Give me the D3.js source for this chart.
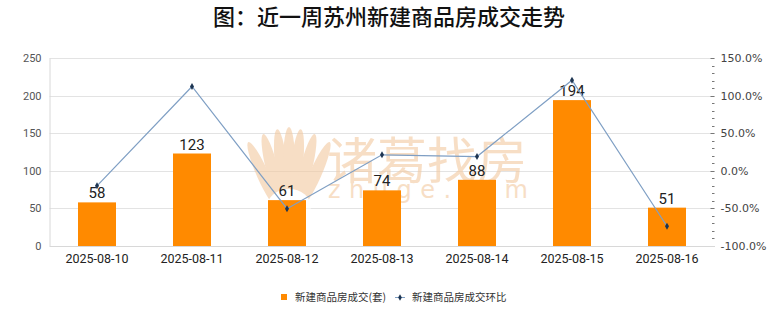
<!DOCTYPE html>
<html><head><meta charset="utf-8">
<script src="https://cdn.jsdelivr.net/npm/d3@7"></script>
<style>
body{margin:0;background:#fff;}
svg{display:block;font-family:"Noto Sans CJK SC","Noto Sans",sans-serif;}
</style></head>
<body><svg id="c" width="780" height="328"></svg>
<script>
const categories = ["2025-08-10","2025-08-11","2025-08-12","2025-08-13","2025-08-14","2025-08-15","2025-08-16"];
const deals = [58,123,61,74,88,194,51];
const momPct = [-20,112.1,-50.4,21.3,18.9,120.5,-73.7];
const leftTicks = [0,50,100,150,200,250];
const rightTicks = [-100,-50,0,50,100,150];
const titleText = "图：近一周苏州新建商品房成交走势";
const seriesNames = ["新建商品房成交(套)","新建商品房成交环比"];

const svg = d3.select("#c");
const X0=49.5, X1=714.5, Y0=58, Y1=246;

const x = d3.scaleBand().domain(categories).range([X0,X1]).paddingInner(0.6).paddingOuter(0.3);
const y = d3.scaleLinear().domain([0,250]).range([Y1,Y0]);
const y2 = d3.scaleLinear().domain([-100,150]).range([Y1,Y0]);

// title
svg.append("text").attr("x",389).attr("y",25).attr("text-anchor","middle")
  .attr("font-size",22).attr("font-weight",500).attr("fill","#111").text(titleText);

// gridlines
svg.append("g").selectAll("line").data(leftTicks).join("line")
  .attr("x1",X0).attr("x2",X1).attr("y1",d=>Math.round(y(d))+0.5).attr("y2",d=>Math.round(y(d))+0.5)
  .attr("stroke","#e3e3e3").attr("stroke-width",1);

// watermark
const wm = svg.append("g").attr("opacity",0.6);
const petals = [[-26,12,-24],[-17,6,-14],[-8,2,-6],[0,0,0],[8,2,6],[17,6,14],[26,12,24]];
petals.forEach(p=>{
  wm.append("ellipse").attr("cx",0).attr("cy",0).attr("rx",6).attr("ry",36)
    .attr("fill","#f3c9a0")
    .attr("transform",`translate(${289+p[0]},${163+p[1]}) rotate(${p[2]})`);
});
wm.append("ellipse").attr("cx",289).attr("cy",207).attr("rx",22).attr("ry",18).attr("fill","#fff");
wm.append("text").attr("x",327).attr("y",179).attr("font-size",50).attr("fill","#f3c9a0")
  .text("诸葛找房");
wm.append("text").attr("x",328).attr("y",198).attr("font-size",24).attr("fill","#f3c9a0")
  .attr("font-family","DejaVu Sans").attr("letter-spacing",8.5).text("zhuge.com");

// left axis
const gl = svg.append("g").attr("transform",`translate(${X0},0)`)
  .call(d3.axisLeft(y).tickValues(leftTicks).tickSize(0).tickPadding(8));
gl.select(".domain").attr("stroke","#d8d8d8");
gl.selectAll("text").attr("font-size",11).attr("fill","#555").attr("font-family","Roboto, 'Noto Sans', sans-serif");

// right axis (major + minor ticks)
const gr = svg.append("g").attr("transform",`translate(${X1},0)`)
  .call(d3.axisRight(y2).tickValues(rightTicks).tickSize(0).tickPadding(6).tickFormat(d=>d.toFixed(1)+"%"));
gr.select(".domain").remove();
gr.selectAll("text").attr("font-size",11).attr("fill","#444").attr("font-family","'DejaVu Sans', sans-serif");
const minor = d3.range(-100,151,10);
svg.append("g").selectAll("line").data(minor).join("line")
  .attr("x1",d=>d%50===0?X1-4:X1-2.5).attr("x2",X1)
  .attr("y1",d=>Math.round(y2(d))+0.5).attr("y2",d=>Math.round(y2(d))+0.5)
  .attr("stroke","#777").attr("stroke-width",1);

// x axis labels
const gx = svg.append("g").attr("transform",`translate(0,${Y1})`)
  .call(d3.axisBottom(x).tickSize(0).tickPadding(8));
gx.select(".domain").attr("stroke","#d8d8d8");
gx.selectAll("text").attr("font-size",12.5).attr("fill","#222").attr("font-family","Roboto, 'Noto Sans', sans-serif");

// bars
svg.append("g").selectAll("rect").data(deals).join("rect")
  .attr("x",(d,i)=>x(categories[i])).attr("width",x.bandwidth())
  .attr("y",d=>y(d)).attr("height",d=>Y1-y(d)).attr("fill","#ff8a00");

// bar labels
svg.append("g").selectAll("text").data(deals).join("text")
  .attr("x",(d,i)=>x(categories[i])+x.bandwidth()/2).attr("y",d=>y(d)-4)
  .attr("text-anchor","middle").attr("font-size",15).attr("fill","#222")
  .attr("font-family","Roboto, 'Noto Sans', sans-serif").text(d=>d);

// line
const cx = i=>x(categories[i])+x.bandwidth()/2;
svg.append("path").datum(momPct)
  .attr("d",d3.line().x((d,i)=>cx(i)).y(d=>y2(d)))
  .attr("fill","none").attr("stroke","#7f9fc4").attr("stroke-width",1.2);
svg.append("g").selectAll("path").data(momPct).join("path")
  .attr("d",d3.symbol(d3.symbolDiamond,14))
  .attr("transform",(d,i)=>`translate(${cx(i)},${y2(d)})`).attr("fill","#1d3552");

// legend
const lg = svg.append("g");
lg.append("rect").attr("x",281).attr("y",294).attr("width",6).attr("height",6).attr("fill","#ff8a00");
lg.append("text").attr("x",295).attr("y",301).attr("font-size",10.5).attr("fill","#333").text(seriesNames[0]);
lg.append("line").attr("x1",395).attr("x2",405).attr("y1",297.5).attr("y2",297.5).attr("stroke","#7f9fc4");
lg.append("path").attr("d",d3.symbol(d3.symbolDiamond,12)).attr("transform","translate(400,297.5)").attr("fill","#1d3552");
lg.append("text").attr("x",412).attr("y",301).attr("font-size",10.5).attr("fill","#333").text(seriesNames[1]);
</script></body></html>
